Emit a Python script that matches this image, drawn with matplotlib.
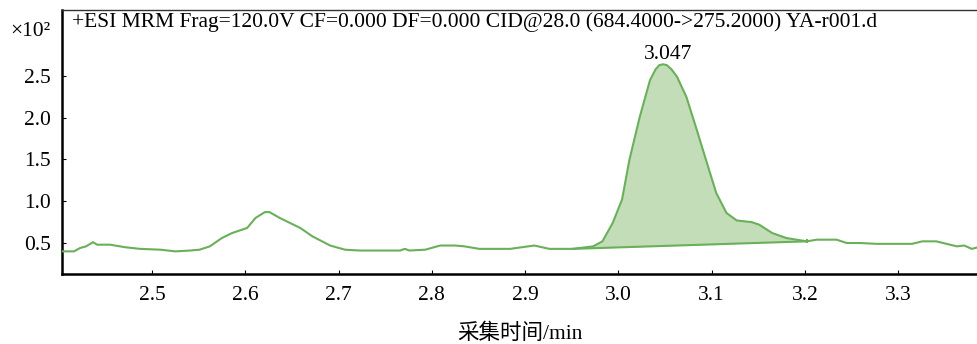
import matplotlib
matplotlib.use("Agg")
import matplotlib.pyplot as plt
import numpy as np

# Retention time (min) and abundance (x10^2)
time_min = [2.4036, 2.4164, 2.4229, 2.4293, 2.4368, 2.4411, 2.455, 2.471, 2.487, 2.509,
            2.525, 2.541, 2.551, 2.562, 2.575, 2.586, 2.594, 2.602, 2.611, 2.621,
            2.626, 2.637, 2.648, 2.659, 2.672, 2.691, 2.707, 2.723, 2.766, 2.771,
            2.776, 2.793, 2.809, 2.825, 2.835, 2.851, 2.884, 2.910, 2.926, 2.951,
            2.973, 2.983, 2.994, 3.004, 3.012, 3.023, 3.034, 3.040, 3.044, 3.048, 3.052, 3.057, 3.063,
            3.073, 3.084, 3.095, 3.105, 3.116, 3.127, 3.143, 3.151, 3.165, 3.180,
            3.202, 3.213, 3.234, 3.245, 3.259, 3.277, 3.315, 3.326, 3.341, 3.363,
            3.371, 3.379, 3.386]
abundance = [0.40, 0.40, 0.44, 0.46, 0.51, 0.48, 0.48, 0.45, 0.43, 0.42,
             0.40, 0.41, 0.42, 0.46, 0.56, 0.62, 0.65, 0.68, 0.80, 0.87,
             0.87, 0.80, 0.74, 0.68, 0.58, 0.47, 0.42, 0.41, 0.41, 0.43,
             0.41, 0.42, 0.47, 0.47, 0.46, 0.43, 0.43, 0.47, 0.43, 0.43,
             0.46, 0.52, 0.74, 1.02, 1.50, 2.01, 2.45, 2.58, 2.63, 2.64, 2.63, 2.58, 2.49,
             2.25, 1.86, 1.46, 1.10, 0.86, 0.77, 0.75, 0.72, 0.62, 0.56,
             0.52, 0.54, 0.54, 0.50, 0.50, 0.49, 0.49, 0.52, 0.52, 0.46,
             0.47, 0.43, 0.45]

peak_start = 2.951
peak_end = 3.202
peak_label = "3.047"
peak_label_x = 3.053
peak_label_y = 2.64

title = "+ESI MRM Frag=120.0V CF=0.000 DF=0.000 CID@28.0 (684.4000->275.2000) YA-r001.d"
xticks = [2.5, 2.6, 2.7, 2.8, 2.9, 3.0, 3.1, 3.2, 3.3]
yticks = [0.5, 1.0, 1.5, 2.0, 2.5]

plt.rcParams['font.family'] = ['Liberation Serif', 'Noto Sans CJK SC']
fs = 15.5

line_color = '#6aaf5a'
fill_color = '#c4ddb9'

fig = plt.figure(figsize=(9.78, 3.44), dpi=100)
ax = fig.add_axes([62/978, 1 - 274/344, 1 - 62/978, (274 - 10)/344])

t = np.array(time_min)
a = np.array(abundance)
ax.plot(t, a, color=line_color, lw=1.5, zorder=3)

# Integrated peak area with baseline
mask = (t >= peak_start) & (t <= peak_end)
tp = t[mask]
ap = a[mask]
base = np.interp(tp, [tp[0], tp[-1]], [ap[0], ap[-1]])
ax.fill_between(tp, base, ap, color=fill_color, lw=0, zorder=2)
ax.plot([tp[0], tp[-1]], [ap[0], ap[-1]], color=line_color, lw=1.5, zorder=3)
ax.plot([tp[-1], tp[-1]], [ap[-1] - 0.012, ap[-1] + 0.012], color=line_color, lw=1.5, zorder=3)

ax.text(peak_label_x, peak_label_y, peak_label, ha='center', va='bottom', fontsize=fs)

ax.set_xlim(2.4035, 3.3857)
ax.set_ylim(0.129, 3.29)
ax.set_xticks(xticks)
ax.set_xticklabels([f"{v:.1f}" for v in xticks])
ax.set_yticks(yticks)
ax.set_yticklabels([f"{v:.1f}" for v in yticks])
ax.tick_params(direction='in', length=3, width=0.8, pad=9, labelsize=fs)
ax.tick_params(axis='y', pad=8)

for s in ['left', 'bottom']:
    ax.spines[s].set_linewidth(1.8)
ax.spines['right'].set_visible(False)
ax.spines['top'].set_linewidth(1.0)
ax.spines['top'].set_color('#333333')

ax.text(0.011, 0.955, title, transform=ax.transAxes, ha='left', va='center', fontsize=fs)
fig.text(10/978, 1 - 31/344, '×10²', ha='left', va='center', fontsize=fs)

ax.set_xlabel('采集时间/min', fontsize=fs, labelpad=13)

fig.savefig('out.png', dpi=100, facecolor='white')
